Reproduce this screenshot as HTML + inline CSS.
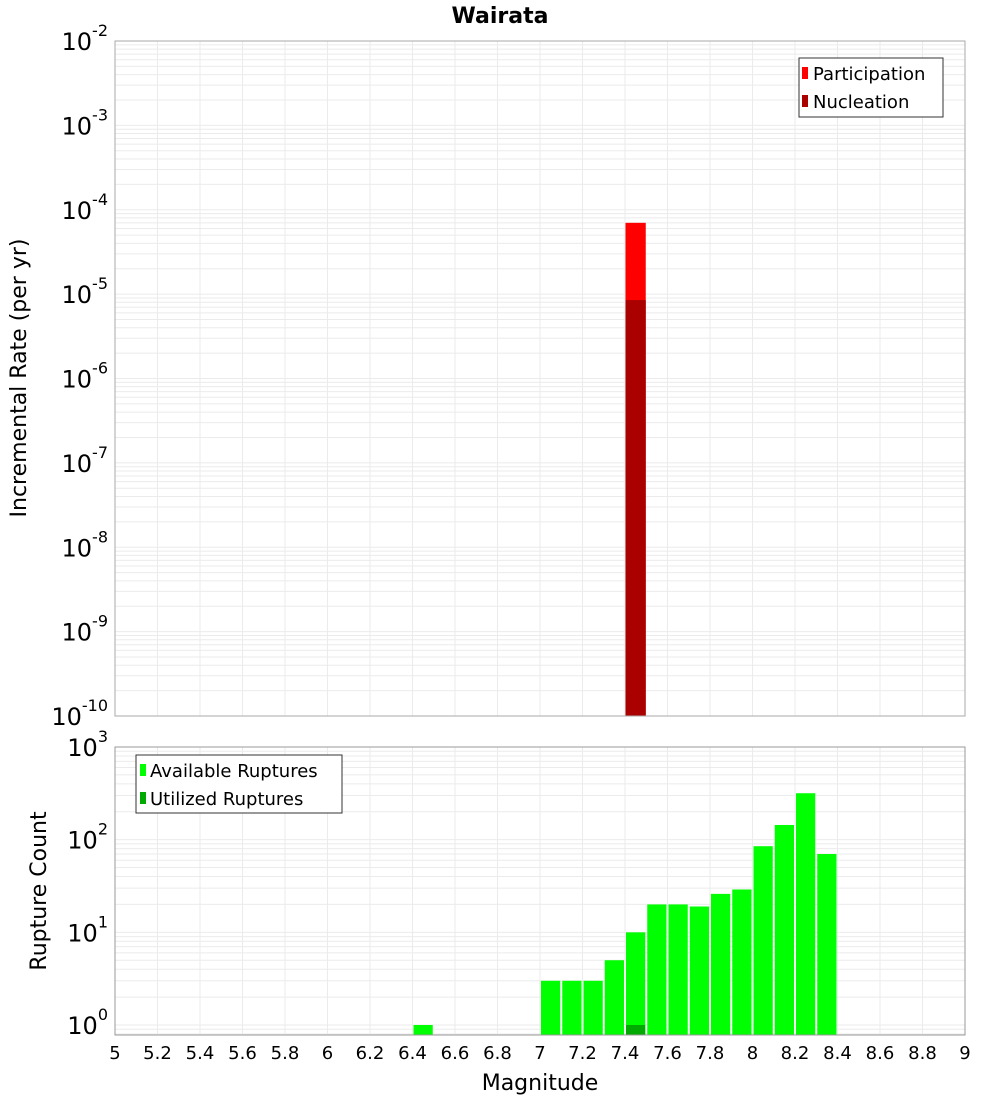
<!DOCTYPE html>
<html><head><meta charset="utf-8"><style>
body{margin:0;background:#fff;}
svg text{font-family:"DejaVu Sans","Liberation Sans",sans-serif;}
</style></head><body>
<svg id="c" width="1000" height="1100" xmlns="http://www.w3.org/2000/svg">
<text x="500" y="23" text-anchor="middle" font-size="22" font-weight="bold">Wairata</text>
<g id="topPanel"></g>
<g id="botPanel"></g>
<text transform="translate(26,378) rotate(-90)" text-anchor="middle" font-size="22">Incremental Rate (per yr)</text>
<text transform="translate(46,891) rotate(-90)" text-anchor="middle" font-size="22">Rupture Count</text>
<text x="540" y="1090" text-anchor="middle" font-size="22">Magnitude</text>
<g>
<rect x="799" y="58" width="144" height="59" fill="#fff" stroke="#333" stroke-width="1"/>
<rect x="802" y="67" width="6" height="12" fill="#ff0000"/>
<text x="813" y="80" font-size="18">Participation</text>
<rect x="802" y="95" width="6" height="12" fill="#aa0000"/>
<text x="813" y="108" font-size="18">Nucleation</text>
</g>
<g>
<rect x="136" y="755" width="206" height="58" fill="#fff" stroke="#333" stroke-width="1"/>
<rect x="140" y="764" width="6" height="12" fill="#00ff00"/>
<text x="150" y="777" font-size="18">Available Ruptures</text>
<rect x="140" y="792" width="6" height="12" fill="#00aa00"/>
<text x="150" y="805" font-size="18">Utilized Ruptures</text>
</g>
</svg>
<script>
const partMags=[7.4];
const partRates=[7.0e-5];
const nuclMags=[7.4];
const nuclRates=[8.5e-6];
const availMags=[6.4,7.0,7.1,7.2,7.3,7.4,7.5,7.6,7.7,7.8,7.9,8.0,8.1,8.2,8.3];
const availCounts=[1,3,3,3,5,10,20,20,19,26,29,85,144,317,70];
const utilMags=[7.4];
const utilCounts=[1];
const xTicks=[5,5.2,5.4,5.6,5.8,6,6.2,6.4,6.6,6.8,7,7.2,7.4,7.6,7.8,8,8.2,8.4,8.6,8.8,9];
const topExps=[-2,-3,-4,-5,-6,-7,-8,-9,-10];
const botExps=[0,1,2,3];
const NS='http://www.w3.org/2000/svg';
const X0=115,X1=965;
const xS=m=>X0+(m-5)/4*(X1-X0);
const yT=v=>41+(-2-Math.log10(v))*84.375;
const yB=v=>1025-Math.log10(v)*92.67;
function mk(p,t,a){const e=document.createElementNS(NS,t);for(const k in a)e.setAttribute(k,a[k]);p.appendChild(e);return e;}
function panel(g,y0,y1,yf,lo,hi,exps,nm){
  for(let d=lo;d<hi;d++)for(let k=1;k<10;k++){const v=k*Math.pow(10,d);const yy=yf(v);if(yy<y0||yy>y1)continue;
    const l=mk(g,'line',{x1:X0,x2:X1,y1:yy,y2:yy,stroke:'#ebebeb','stroke-width':1});
    
    }
  xTicks.forEach(t=>{const l=mk(g,'line',{x1:xS(t),x2:xS(t),y1:y0,y2:y1,stroke:'#ebebeb','stroke-width':1});
    
    });
  exps.forEach(e=>{const yy=yf(Math.pow(10,e));const t=mk(g,'text',{x:X0-7,y:yy+9,'text-anchor':'end','font-size':24});
    
    
    t.textContent='10';const s=mk(t,'tspan',{dy:-14,'font-size':16});s.textContent=String(e);});
}
const gTop=document.getElementById('topPanel'),gBot=document.getElementById('botPanel');
panel(gTop,41,716,yT,-10,-2,topExps,'top');
panel(gBot,747,1035,yB,-1,3,botExps,'bottom');
function bars(g,mags,vals,yf,base,fill,nm,gap){
  mags.forEach((m,i)=>{const yy=yf(vals[i]);const r=mk(g,'rect',{x:xS(m)+gap,y:yy,width:xS(m+0.1)-xS(m)-2*gap,height:base-yy,fill:fill});
    
    });
}
bars(gTop,partMags,partRates,yT,716,'#ff0000','participation-bar',0.5);
bars(gTop,nuclMags,nuclRates,yT,716,'#aa0000','nucleation-bar',0.5);
bars(gBot,availMags,availCounts,yB,1035,'#00ff00','available-bar',1);
bars(gBot,utilMags,utilCounts,yB,1035,'#00aa00','utilized-bar',1);
mk(gTop,'rect',{x:X0,y:41,width:X1-X0,height:675,fill:'none',stroke:'#aaa','stroke-width':1});
mk(gBot,'rect',{x:X0,y:747,width:X1-X0,height:288,fill:'none',stroke:'#999','stroke-width':1});
xTicks.forEach(t=>{const e=mk(gBot,'text',{x:xS(t),y:1059,'text-anchor':'middle','font-size':18});
  
  
  e.textContent=String(t);});
</script>
</body></html>
